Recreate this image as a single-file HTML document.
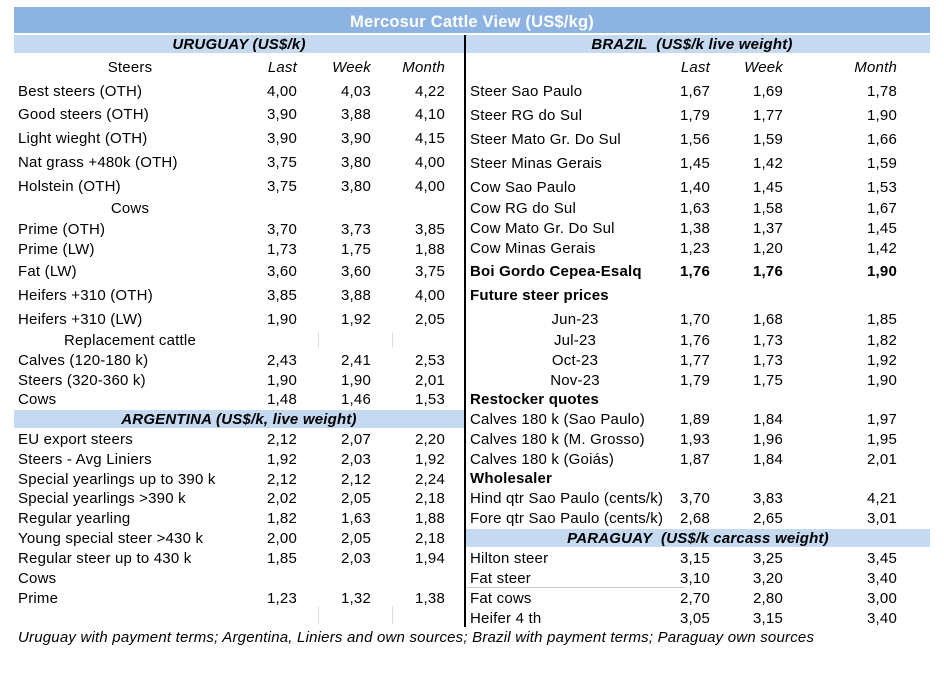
<!DOCTYPE html>
<html><head><meta charset="utf-8"><style>
body{margin:0;width:944px;height:675px;background:#fff;position:relative;font-family:"Liberation Sans",Arial,sans-serif;font-size:15px;letter-spacing:0.2px;color:#000;overflow:hidden}
div{position:absolute;white-space:nowrap;line-height:16px}
.r{text-align:right;width:60px}
.c{text-align:center}
.b{font-weight:bold}
.i{font-style:italic}
</style></head><body>
<div style="left:14px;top:7px;width:916px;height:26px;background:#8DB3E2"></div>
<div style="left:14px;top:12px;width:916px;text-align:center;color:#fff;font-weight:bold;font-size:16.5px;line-height:20px">Mercosur Cattle View (US$/kg)</div>
<div style="left:14px;top:35px;width:450px;height:18px;background:#C5D9F1"></div>
<div style="left:466px;top:35px;width:464px;height:18px;background:#C5D9F1"></div>
<div style="left:14px;top:410px;width:450px;height:18px;background:#C5D9F1"></div>
<div style="left:466px;top:529px;width:464px;height:18px;background:#C5D9F1"></div>
<div style="left:464px;top:35px;width:2px;height:592px;background:#000"></div>
<div style="left:466px;top:587px;width:220px;height:1px;background:#ccc"></div>
<div style="left:318px;top:332px;width:1px;height:16px;background:#ddd"></div>
<div style="left:392px;top:332px;width:1px;height:16px;background:#ddd"></div>
<div style="left:318px;top:606px;width:1px;height:18px;background:#ddd"></div>
<div style="left:392px;top:606px;width:1px;height:18px;background:#ddd"></div>
<div class="c b i" style="left:14px;top:37px;width:450px">URUGUAY (US$/k)</div>
<div class="c b i" style="left:460px;top:37px;width:464px">BRAZIL&nbsp; (US$/k live weight)</div>
<div class="c b i" style="left:14px;top:412px;width:450px">ARGENTINA (US$/k, live weight)</div>
<div class="c b i" style="left:466px;top:531px;width:464px">PARAGUAY&nbsp; (US$/k carcass weight)</div>
<div class="i" style="left:18px;top:630px">Uruguay with payment terms; Argentina, Liniers and own sources; Brazil with payment terms; Paraguay own sources</div>
<script>
function add(x,y,t,cls,w){var d=document.createElement('div');d.className=cls||'';d.style.left=x+'px';d.style.top=(y-7)+'px';if(w)d.style.width=w+'px';d.innerHTML=t;document.body.appendChild(d);}
var L=[[67,'Steers','Last','Week','Month',1],[91,'Best steers (OTH)','4,00','4,03','4,22'],[114,'Good steers (OTH)','3,90','3,88','4,10'],[138,'Light wieght (OTH)','3,90','3,90','4,15'],[162,'Nat grass +480k (OTH)','3,75','3,80','4,00'],[186,'Holstein (OTH)','3,75','3,80','4,00'],[208,'Cows','','','',2],[229,'Prime (OTH)','3,70','3,73','3,85'],[249,'Prime (LW)','1,73','1,75','1,88'],[271,'Fat (LW)','3,60','3,60','3,75'],[295,'Heifers +310 (OTH)','3,85','3,88','4,00'],[319,'Heifers +310 (LW)','1,90','1,92','2,05'],[340,'Replacement cattle','','','',3],[360,'Calves (120-180 k)','2,43','2,41','2,53'],[380,'Steers (320-360 k)','1,90','1,90','2,01'],[399,'Cows','1,48','1,46','1,53'],[439,'EU export steers','2,12','2,07','2,20'],[459,'Steers - Avg Liniers','1,92','2,03','1,92'],[479,'Special yearlings up to 390 k','2,12','2,12','2,24'],[498,'Special yearlings >390 k','2,02','2,05','2,18'],[518,'Regular yearling','1,82','1,63','1,88'],[538,'Young special steer >430 k','2,00','2,05','2,18'],[558,'Regular steer up to 430 k','1,85','2,03','1,94'],[578,'Cows','','',''],[598,'Prime','1,23','1,32','1,38']];
L.forEach(function(r){
 if(r[5]==1){add(60,r[0],r[1],'c',140);}
 else if(r[5]==2){add(60,r[0],r[1],'c',140);}
 else if(r[5]==3){add(30,r[0],r[1],'c',200);}
 else add(18,r[0],r[1]);
 var ic=r[5]==1?'r i':'r';
 add(237,r[0],r[2],ic);add(311,r[0],r[3],ic);add(385,r[0],r[4],ic);
});
var R=[[67,'','Last','Week','Month',1],[91,'Steer Sao Paulo','1,67','1,69','1,78'],[115,'Steer RG do Sul','1,79','1,77','1,90'],[139,'Steer Mato Gr. Do Sul','1,56','1,59','1,66'],[163,'Steer Minas Gerais','1,45','1,42','1,59'],[187,'Cow Sao Paulo','1,40','1,45','1,53'],[208,'Cow RG do Sul','1,63','1,58','1,67'],[228,'Cow Mato Gr. Do Sul','1,38','1,37','1,45'],[248,'Cow Minas Gerais','1,23','1,20','1,42'],[271,'Boi Gordo Cepea-Esalq','1,76','1,76','1,90',2],[295,'Future steer prices','','','',2],[319,'Jun-23','1,70','1,68','1,85',3],[340,'Jul-23','1,76','1,73','1,82',3],[360,'Oct-23','1,77','1,73','1,92',3],[380,'Nov-23','1,79','1,75','1,90',3],[399,'Restocker quotes','','','',2],[419,'Calves 180 k (Sao Paulo)','1,89','1,84','1,97'],[439,'Calves 180 k (M. Grosso)','1,93','1,96','1,95'],[459,'Calves 180 k (Goiás)','1,87','1,84','2,01'],[478,'Wholesaler','','','',2],[498,'Hind qtr Sao Paulo (cents/k)','3,70','3,83','4,21'],[518,'Fore qtr Sao Paulo (cents/k)','2,68','2,65','3,01'],[558,'Hilton steer','3,15','3,25','3,45'],[578,'Fat steer','3,10','3,20','3,40'],[598,'Fat cows','2,70','2,80','3,00'],[618,'Heifer 4 th','3,05','3,15','3,40']];
R.forEach(function(r){
 var f=r[5];
 if(f==3)add(525,r[0],r[1],'c',100);else add(470,r[0],r[1],f==2?'b':'');
 var ic=f==1?'r i':(f==2?'r b':'r');
 add(650,r[0],r[2],ic);add(723,r[0],r[3],ic);add(837,r[0],r[4],ic);
});
</script>
</body></html>
